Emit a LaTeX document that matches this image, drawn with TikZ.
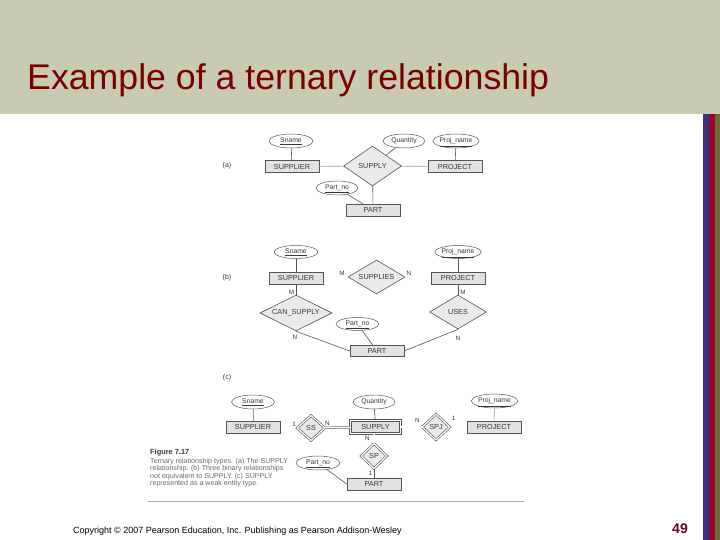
\documentclass[tikz,border=0pt]{standalone}
\usepackage{fontspec}
\setmainfont{Liberation Sans}
\usepackage{xcolor}
\usepackage{tikz}
\usetikzlibrary{shapes.geometric}
\definecolor{headbg}{RGB}{200,202,178}
\definecolor{titlered}{RGB}{122,0,0}
\definecolor{pgnum}{RGB}{105,0,45}
\definecolor{stripblue}{RGB}{58,52,128}
\definecolor{stripred}{RGB}{150,0,48}
\definecolor{stripolive}{RGB}{108,108,50}
\definecolor{edgegray}{RGB}{85,85,85}
\definecolor{linegray}{RGB}{150,150,150}
\definecolor{entfill}{RGB}{226,226,226}
\definecolor{relfill}{RGB}{234,234,234}
\definecolor{figtext}{RGB}{55,55,55}
\definecolor{capgray}{RGB}{105,105,105}
\definecolor{rulegray}{RGB}{175,175,175}
\newcommand{\fsz}[1]{\fontsize{#1}{#1}\selectfont}
\tikzset{
  ent/.style={rectangle,draw=edgegray,fill=entfill,line width=0.6pt,
              minimum width=54,minimum height=12,inner sep=0pt,
              font=\fsz{7.3},text=figtext},
  wkent/.style={ent,double=white,double distance=1.4pt,
                minimum width=50,minimum height=13},
  rel/.style={diamond,draw=edgegray,fill=relfill,line width=0.6pt,aspect=1.6,
              minimum width=#1,inner sep=0pt,font=\fsz{7.3},text=figtext},
  rel/.default=58,
  wkrel/.style={rel=#1,double=white,double distance=1.2pt},
  attr/.style={ellipse,draw=edgegray,fill=white,line width=0.5pt,
               minimum width=44,minimum height=14,inner sep=0pt,
               text height=5pt,text depth=1.2pt,
               font=\fsz{6.8},text=figtext},
}

\begin{document}
\begin{tikzpicture}[x=1pt,y=-1pt,
    lbl/.style={font=\fsz{6.3},text=figtext,inner sep=0pt},
    part/.style={font=\fsz{7},text=figtext,inner sep=0pt},
    ln/.style={draw=edgegray,line width=0.6pt},
    lnlt/.style={draw=linegray,line width=0.6pt},
    dbl/.style={draw=edgegray,line width=0.5pt,double=white,double distance=1.3pt},
  ]
  \useasboundingbox (0,0) rectangle (720,540);

  % ── Slide frame
  \fill[headbg] (0,0) rectangle (720,114);
  \fill[stripblue]  (703,114) rectangle (709,540);
  \fill[stripred]   (709,114) rectangle (715,540);
  \fill[stripolive] (715,114) rectangle (720,540);
  \node[anchor=base west,inner sep=0pt,text=titlered,font=\fsz{35.7}]
    (title) at (27,90) {Example of a ternary relationship};

  % ── (a) ternary SUPPLY
  \node[part] (lbla) at (227,166) {(a)};
  \node[attr] (snamea) at (291,141) {\underline{Sname}};
  \node[ent]  (supplra) at (292,166.5) {SUPPLIER};
  \node[attr,minimum width=42] (quanta) at (404,141) {Quantity};
  \node[attr] (pnamea) at (456,141) {\underline{Proj\_name}};
  \node[rel,minimum height=40] (supplya) at (372.5,166) {SUPPLY};
  \node[ent]  (projecta) at (455,166.5) {PROJECT};
  \node[attr,minimum width=42] (partnoa) at (337,188) {\underline{Part\_no}};
  \node[ent]  (parta) at (373,210) {PART};

  \draw[ln] (snamea) -- (supplra);
  \draw[lnlt] (supplra) -- (supplya);
  \draw[lnlt] (supplya) -- (projecta);
  \draw[ln] (quanta) -- (supplya);
  \draw[ln] (pnamea) -- (projecta);
  \draw[ln] (supplya) -- (parta);
  \draw[ln] (partnoa) -- (parta);

  % ── (b) three binary relationships
  \node[part] (lblb) at (227,278) {(b)};
  \node[attr,minimum height=13] (snameb) at (296,252) {\underline{Sname}};
  \node[ent]  (supplrb) at (296,278) {SUPPLIER};
  \node[rel=57,minimum height=34] (supplies) at (376.5,277) {SUPPLIES};
  \node[lbl] (m1) at (342,273) {M};
  \node[lbl] (n1) at (409,273) {N};
  \node[attr,minimum height=13] (pnameb) at (458,252) {\underline{Proj\_name}};
  \node[ent]  (projectb) at (458,278) {PROJECT};
  \node[rel=72,minimum height=36,aspect=2] (cansup) at (296,313) {CAN\_SUPPLY};
  \node[rel=57,minimum height=34] (uses) at (458,312) {USES};
  \node[lbl] (m2) at (291.5,292) {M};
  \node[lbl] (m3) at (463,292.5) {M};
  \node[lbl] (n2) at (295,337) {N};
  \node[lbl] (n3) at (458,338) {N};
  \node[attr,minimum width=43,minimum height=13] (partnob) at (357.5,324) {\underline{Part\_no}};
  \node[ent,minimum height=11] (partb) at (377,351) {PART};

  \draw[ln] (snameb) -- (supplrb);
  \draw[ln] (supplrb) -- (cansup);
  \draw[ln] (pnameb) -- (projectb);
  \draw[ln] (projectb) -- (uses);
  \draw[ln] (cansup.south) -- (partb.west);
  \draw[ln] (partb.east) -- (uses.south);
  \draw[ln] (partnob) -- (partb);

  % ── (c) SUPPLY as weak entity
  \node[part] (lblc) at (227,378) {(c)};
  \node[attr,minimum width=43] (snamec) at (253,402) {\underline{Sname}};
  \node[ent]  (supplrc) at (253,427) {SUPPLIER};
  \node[wkrel=28,minimum height=25] (ss) at (311,428) {SS};
  \node[attr,minimum width=42] (quantc) at (374,402) {Quantity};
  \node[wkent] (supplyc) at (375.5,427) {SUPPLY};
  \node[wkrel=28,minimum height=26] (spj) at (436,427) {SPJ};
  \node[attr] (pnamec) at (494.5,401) {\underline{Proj\_name}};
  \node[ent]  (projectc) at (494,427) {PROJECT};
  \node[wkrel=26,minimum height=25] (sp) at (374,456) {SP};
  \node[ent]  (partc) at (374,484) {PART};
  \node[attr] (partnoc) at (318,463) {\underline{Part\_no}};
  \node[lbl] (o1) at (294,424) {1};
  \node[lbl] (n4) at (327.5,423) {N};
  \node[lbl] (n5) at (417.5,420) {N};
  \node[lbl] (o2) at (453.5,418) {1};
  \node[lbl] (n6) at (367.5,438.5) {N};
  \node[lbl] (o3) at (370.5,473) {1};

  \draw[lnlt] (snamec) -- (supplrc);
  \draw[lnlt] (pnamec) -- (projectc);
  \draw[ln] (quantc) -- (supplyc);
  \draw[dbl] (ss) -- (supplyc);
  \draw[dbl] (supplyc) -- (spj);
  \draw[dbl] (supplyc.south -| sp) -- (sp);
  \draw[ln] (sp) -- (partc);
  \draw[ln] (partnoc) -- (partc.west);

  % ── Caption
  \node[anchor=west,inner sep=0pt,font=\bfseries\fsz{7.4},text=figtext]
    (figno) at (150,453) {Figure 7.17};
  \node[anchor=north west,inner sep=0pt,align=left,text=capgray,
        font=\fontsize{7.1}{7.3}\selectfont] (caption) at (150,458.3)
    {Ternary relationship types. (a) The SUPPLY\\
     relationship. (b) Three binary relationships\\
     not equivalent to SUPPLY. (c) SUPPLY\\
     represented as a weak entity type.};
  \draw[rulegray,line width=0.6pt] (148,501) -- (524,501);

  % ── Footer
  \node[anchor=base west,inner sep=0pt,font=\fsz{9},text=black]
    (copy) at (73,533) {Copyright © 2007 Pearson Education, Inc. Publishing as Pearson Addison-Wesley};
  \node[anchor=base east,inner sep=0pt,font=\bfseries\fsz{14},text=pgnum]
    (pg) at (688,533) {49};
\end{tikzpicture}
\end{document}
